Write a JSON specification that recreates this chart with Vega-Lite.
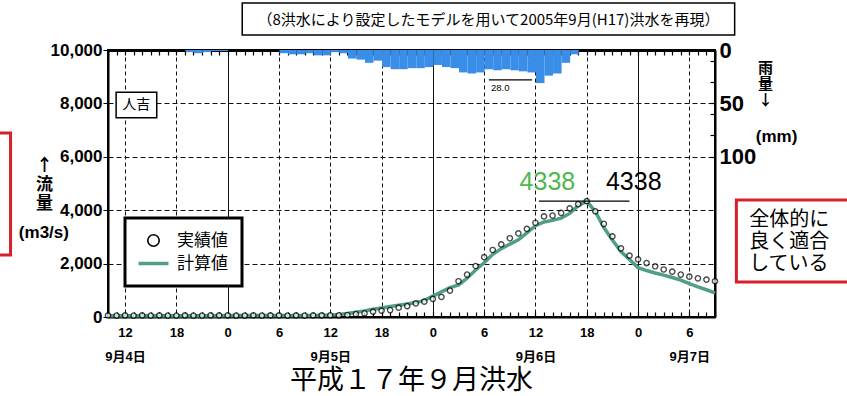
{
  "$schema": "https://vega.github.io/schema/vega-lite/v6.json",
  "width": 607,
  "height": 267,
  "autosize": "none",
  "padding": {"left": 108, "top": 50, "right": 132, "bottom": 79},
  "background": "white",
  "config": {
    "view": {"stroke": "black", "strokeWidth": 2},
    "font": "Liberation Sans",
    "axis": {"domainColor": "black", "tickColor": "black", "labelColor": "black", "titleColor": "black"}
  },
  "datasets": {
    "flow": [
      {"h": 10, "obs": 60, "calc": 50}, {"h": 11, "obs": 55, "calc": 50}, {"h": 12, "obs": 60, "calc": 50},
      {"h": 13, "obs": 55, "calc": 50}, {"h": 14, "obs": 60, "calc": 50}, {"h": 15, "obs": 55, "calc": 50},
      {"h": 16, "obs": 60, "calc": 50}, {"h": 17, "obs": 55, "calc": 50}, {"h": 18, "obs": 55, "calc": 50},
      {"h": 19, "obs": 60, "calc": 50}, {"h": 20, "obs": 55, "calc": 50}, {"h": 21, "obs": 55, "calc": 50},
      {"h": 22, "obs": 60, "calc": 50}, {"h": 23, "obs": 60, "calc": 50}, {"h": 24, "obs": 60, "calc": 55},
      {"h": 25, "obs": 55, "calc": 55}, {"h": 26, "obs": 55, "calc": 55}, {"h": 27, "obs": 60, "calc": 55},
      {"h": 28, "obs": 55, "calc": 55}, {"h": 29, "obs": 60, "calc": 55}, {"h": 30, "obs": 60, "calc": 55},
      {"h": 31, "obs": 55, "calc": 55}, {"h": 32, "obs": 60, "calc": 60}, {"h": 33, "obs": 55, "calc": 60},
      {"h": 34, "obs": 60, "calc": 60}, {"h": 35, "obs": 60, "calc": 65}, {"h": 36, "obs": 65, "calc": 70},
      {"h": 37, "obs": 65, "calc": 95}, {"h": 38, "obs": 75, "calc": 130}, {"h": 39, "obs": 110, "calc": 180},
      {"h": 40, "obs": 140, "calc": 230}, {"h": 41, "obs": 200, "calc": 290}, {"h": 42, "obs": 240, "calc": 340},
      {"h": 43, "obs": 260, "calc": 390}, {"h": 44, "obs": 350, "calc": 440}, {"h": 45, "obs": 410, "calc": 490},
      {"h": 46, "obs": 510, "calc": 540}, {"h": 47, "obs": 575, "calc": 620}, {"h": 48, "obs": 680, "calc": 780},
      {"h": 49, "obs": 750, "calc": 940}, {"h": 50, "obs": 990, "calc": 1100}, {"h": 51, "obs": 1340, "calc": 1200},
      {"h": 52, "obs": 1590, "calc": 1450}, {"h": 53, "obs": 1910, "calc": 1760}, {"h": 54, "obs": 2240, "calc": 2030},
      {"h": 55, "obs": 2510, "calc": 2350}, {"h": 56, "obs": 2720, "calc": 2560}, {"h": 57, "obs": 2950, "calc": 2730},
      {"h": 58, "obs": 3130, "calc": 2890}, {"h": 59, "obs": 3300, "calc": 3150}, {"h": 60, "obs": 3530, "calc": 3420},
      {"h": 61, "obs": 3770, "calc": 3560}, {"h": 62, "obs": 3800, "calc": 3620}, {"h": 63, "obs": 3900, "calc": 3700},
      {"h": 64, "obs": 4070, "calc": 3880}, {"h": 65, "obs": 4225, "calc": 4170}, {"h": 66, "obs": 4338, "calc": 4338},
      {"h": 67, "obs": 3960, "calc": 3950}, {"h": 68, "obs": 3490, "calc": 3350}, {"h": 69, "obs": 3020, "calc": 2880},
      {"h": 70, "obs": 2570, "calc": 2450}, {"h": 71, "obs": 2300, "calc": 2150}, {"h": 72, "obs": 2160, "calc": 1850},
      {"h": 73, "obs": 2020, "calc": 1740}, {"h": 74, "obs": 1900, "calc": 1650}, {"h": 75, "obs": 1780, "calc": 1570},
      {"h": 76, "obs": 1700, "calc": 1480}, {"h": 77, "obs": 1590, "calc": 1380}, {"h": 78, "obs": 1510, "calc": 1250},
      {"h": 79, "obs": 1450, "calc": 1130}, {"h": 80, "obs": 1400, "calc": 1020}, {"h": 81, "obs": 1340, "calc": 900}
    ],
    "rain": [
      {"h": 19, "mm": 2}, {"h": 20, "mm": 3}, {"h": 21, "mm": 2}, {"h": 22, "mm": 1}, {"h": 23, "mm": 1},
      {"h": 30, "mm": 3}, {"h": 31, "mm": 4}, {"h": 32, "mm": 4}, {"h": 33, "mm": 3}, {"h": 34, "mm": 5},
      {"h": 35, "mm": 5}, {"h": 36, "mm": 2}, {"h": 37, "mm": 3}, {"h": 38, "mm": 8}, {"h": 39, "mm": 9},
      {"h": 40, "mm": 12}, {"h": 41, "mm": 10}, {"h": 42, "mm": 16}, {"h": 43, "mm": 18}, {"h": 44, "mm": 18},
      {"h": 45, "mm": 17}, {"h": 46, "mm": 17}, {"h": 47, "mm": 16}, {"h": 48, "mm": 14}, {"h": 49, "mm": 16},
      {"h": 50, "mm": 17}, {"h": 51, "mm": 21}, {"h": 52, "mm": 22}, {"h": 53, "mm": 21}, {"h": 54, "mm": 18},
      {"h": 55, "mm": 19}, {"h": 56, "mm": 18}, {"h": 57, "mm": 19}, {"h": 58, "mm": 20}, {"h": 59, "mm": 21},
      {"h": 60, "mm": 31}, {"h": 61, "mm": 24}, {"h": 62, "mm": 22}, {"h": 63, "mm": 12}, {"h": 64, "mm": 4}
    ]
  },
  "layer": [
    {
      "data": {"name": "rain"},
      "mark": {"type": "bar", "color": "#3a8ee8", "binSpacing": 0},
      "encoding": {
        "x": {
          "field": "h", "type": "quantitative", "bin": {"step": 1, "extent": [10, 81]},
          "scale": {"domain": [10, 81], "nice": false, "zero": false},
          "axis": {
            "orient": "top", "title": null, "labels": false, "grid": false,
            "values": [10,11,12,13,14,15,16,17,18,19,20,21,22,23,24,25,26,27,28,29,30,31,32,33,34,35,36,37,38,39,40,41,42,43,44,45,46,47,48,49,50,51,52,53,54,55,56,57,58,59,60,61,62,63,64,65,66,67,68,69,70,71,72,73,74,75,76,77,78,79,80,81],
            "tickSize": -5, "tickWidth": 1.2, "domainWidth": 3
          }
        },
        "y": {
          "field": "mm", "type": "quantitative", "aggregate": "sum",
          "scale": {"domain": [0, 250], "reverse": true, "nice": false, "zero": true},
          "axis": {
            "orient": "right", "grid": false,
            "values": [0, 50, 100],
            "format": "d",
            "labelFont": "Liberation Sans", "labelFontWeight": "bold", "labelFontSize": 22,
            "labelPadding": 9, "labelOverlap": false, "labelFlush": false, "labelBound": false,
            "tickSize": -5, "tickWidth": 1.2, "domainWidth": 2,
            "title": ["雨", "量", "↓"], "titleAngle": 0, "titleX": 50, "titleY": 10,
            "titleAlign": "center", "titleBaseline": "top",
            "titleFont": "Noto Sans CJK JP", "titleFontSize": 15, "titleFontWeight": "bold", "titleLineHeight": 16
          }
        }
      }
    },
    {
      "data": {"values": [{"mm": 28.0, "label": "28.0"}]},
      "layer": [
        {
          "mark": {"type": "rule", "color": "black", "strokeWidth": 1.2},
          "encoding": {
            "x": {"datum": 54.55, "type": "quantitative", "scale": {"domain": [10, 81], "nice": false, "zero": false}, "axis": null},
            "x2": {"datum": 59.6},
            "y": {
              "field": "mm", "type": "quantitative",
              "scale": {"domain": [0, 250], "reverse": true, "nice": false, "zero": true},
              "axis": {
                "orient": "right", "grid": false, "domain": false, "labels": false, "title": null,
                "values": [10, 20, 30, 40, 60, 70, 80, 90],
                "tickSize": -5, "tickWidth": 1.2
              }
            }
          }
        },
        {
          "mark": {"type": "text", "align": "left", "baseline": "middle", "fontSize": 9.5, "color": "black"},
          "encoding": {
            "x": {"datum": 54.8, "type": "quantitative"},
            "y": {"datum": 36, "type": "quantitative"},
            "text": {"field": "label"}
          }
        }
      ]
    },
    {
      "layer": [
        {
          "data": {"values": [{"label": "（8洪水により設定したモデルを用いて2005年9月(H17)洪水を再現）"}]},
          "mark": {"type": "rect", "fill": "white", "stroke": "black", "strokeWidth": 1.5},
          "encoding": {
            "x": {"datum": 25.7, "type": "quantitative"}, "x2": {"datum": 83.3},
            "y": {"datum": 11760, "type": "quantitative"}, "y2": {"datum": 10560}
          }
        },
        {
          "data": {"values": [{"label": "（8洪水により設定したモデルを用いて2005年9月(H17)洪水を再現）"}]},
          "mark": {"type": "text", "font": "Noto Sans CJK JP", "fontSize": 15, "color": "black", "align": "center", "baseline": "middle"},
          "encoding": {
            "x": {"datum": 54.5, "type": "quantitative"},
            "y": {"datum": 11124, "type": "quantitative"},
            "text": {"field": "label"}
          }
        },
        {
          "data": {"name": "flow"},
          "mark": {"type": "line", "strokeWidth": 3.5},
          "encoding": {
            "x": {
              "field": "h", "type": "quantitative",
              "scale": {"domain": [10, 81], "nice": false, "zero": false},
              "axis": {
                "orient": "bottom", "title": null,
                "values": [10,11,12,13,14,15,16,17,18,19,20,21,22,23,24,25,26,27,28,29,30,31,32,33,34,35,36,37,38,39,40,41,42,43,44,45,46,47,48,49,50,51,52,53,54,55,56,57,58,59,60,61,62,63,64,65,66,67,68,69,70,71,72,73,74,75,76,77,78,79,80,81],
                "labelExpr": "datum.value % 6 != 0 ? '' : datum.value == 12 ? ['12', '9月4日'] : datum.value == 36 ? ['12', '9月5日'] : datum.value == 60 ? ['12', '9月6日'] : datum.value == 78 ? ['6', '9月7日'] : '' + (datum.value % 24)",
                "labelFont": "Liberation Sans, Noto Sans CJK JP", "labelFontWeight": "bold",
                "labelFontSize": {"condition": {"test": "datum.value % 6 == 0", "value": 13}, "value": 1},
                "labelLineHeight": 24, "labelPadding": 14, "labelOverlap": false, "labelFlush": false, "labelBound": false,
                "tickSize": -5, "tickWidth": 1.2, "domainWidth": 2,
                "grid": true, "gridColor": "#111111", "gridWidth": 1,
                "gridOpacity": {"condition": {"test": "datum.value % 6 == 0", "value": 1}, "value": 0},
                "gridDash": {"condition": {"test": "datum.value % 24 == 0", "value": []}, "value": [4, 3]}
              }
            },
            "y": {
              "field": "calc", "type": "quantitative",
              "scale": {"domain": [0, 10000], "nice": false},
              "axis": {
                "orient": "left",
                "values": [0, 1000, 2000, 3000, 4000, 5000, 6000, 7000, 8000, 9000, 10000],
                "labelExpr": "datum.value % 2000 == 0 ? format(datum.value, ',') : ''",
                "labelFont": "Liberation Sans", "labelFontWeight": "bold",
                "labelFontSize": {"condition": {"test": "datum.value % 2000 == 0", "value": 17}, "value": 1},
                "labelPadding": 1, "labelOverlap": false, "labelFlush": false, "labelBound": false,
                "tickSize": {"condition": {"test": "datum.value % 2000 == 0", "value": 5}, "value": -4},
                "domainWidth": 2,
                "grid": true, "gridColor": "#111111", "gridWidth": 1, "gridDash": [5, 3],
                "gridOpacity": {"condition": {"test": "datum.value % 2000 == 0 && datum.value > 0 && datum.value < 10000", "value": 1}, "value": 0},
                "title": ["↑", "流", "量"], "titleAngle": 0, "titleX": -64, "titleY": 107,
                "titleAlign": "center", "titleBaseline": "top",
                "titleFont": "Noto Sans CJK JP", "titleFontSize": 17, "titleFontWeight": "bold", "titleLineHeight": 19
              }
            },
            "color": {
              "datum": "計算値",
              "scale": {"domain": ["実績値", "計算値"], "range": ["black", "#4f9f80"]},
              "legend": {
                "orient": "none", "legendX": 17, "legendY": 168, "title": null,
                "padding": 14, "strokeColor": "black", "fillColor": "white",
                "labelFont": "Noto Sans CJK JP", "labelFontSize": 17, "labelColor": "black",
                "symbolSize": 130, "symbolOffset": 6, "labelOffset": 15, "rowPadding": 4,
                "encode": {
                  "legend": {"update": {"strokeWidth": {"value": 3}}},
                  "symbols": {"update": {
                    "shape": {"signal": "datum.value === '実績値' ? 'circle' : 'M-2.63,0L2.63,0'"},
                    "strokeWidth": {"signal": "datum.value === '実績値' ? 1.6 : 3.5"},
                    "fill": {"value": "transparent"}
                  }}
                }
              }
            }
          }
        },
        {
          "data": {"name": "flow"},
          "mark": {"type": "point", "shape": "circle", "filled": false, "fill": "white", "size": 28, "strokeWidth": 1.4},
          "encoding": {
            "x": {"field": "h", "type": "quantitative"},
            "y": {"field": "obs", "type": "quantitative"},
            "color": {"datum": "実績値"}
          }
        },
        {
          "data": {"name": "flow"},
          "transform": [{"aggregate": [{"op": "max", "field": "calc", "as": "peak"}]}],
          "mark": {"type": "rule", "color": "black", "strokeWidth": 1.2},
          "encoding": {
            "x": {"datum": 60.4, "type": "quantitative"}, "x2": {"datum": 71.0},
            "y": {"field": "peak", "type": "quantitative"}
          }
        },
        {
          "data": {"name": "flow"},
          "transform": [{"aggregate": [{"op": "max", "field": "calc", "as": "peak"}]}],
          "mark": {"type": "text", "fontSize": 25, "color": "#4db84d", "align": "center", "baseline": "middle"},
          "encoding": {
            "x": {"datum": 61.4, "type": "quantitative"},
            "y": {"datum": 5040, "type": "quantitative"},
            "text": {"field": "peak", "type": "quantitative", "format": "d"}
          }
        },
        {
          "data": {"name": "flow"},
          "transform": [{"aggregate": [{"op": "max", "field": "obs", "as": "peak"}]}],
          "mark": {"type": "text", "fontSize": 25, "color": "black", "align": "center", "baseline": "middle"},
          "encoding": {
            "x": {"datum": 71.5, "type": "quantitative"},
            "y": {"datum": 5040, "type": "quantitative"},
            "text": {"field": "peak", "type": "quantitative", "format": "d"}
          }
        },
        {
          "data": {"values": [{"label": "人吉"}]},
          "mark": {"type": "rect", "fill": "white", "stroke": "black", "strokeWidth": 1.5},
          "encoding": {
            "x": {"datum": 10.95, "type": "quantitative"}, "x2": {"datum": 15.7},
            "y": {"datum": 8420, "type": "quantitative"}, "y2": {"datum": 7460}
          }
        },
        {
          "data": {"values": [{"label": "人吉"}]},
          "mark": {"type": "text", "font": "Noto Sans CJK JP", "fontSize": 14, "color": "black", "align": "center", "baseline": "middle"},
          "encoding": {
            "x": {"datum": 13.3, "type": "quantitative"},
            "y": {"datum": 7940, "type": "quantitative"},
            "text": {"field": "label"}
          }
        },
        {
          "data": {"values": [{"label": "(m3/s)"}]},
          "mark": {"type": "text", "font": "Liberation Sans", "fontSize": 17, "fontWeight": "bold", "color": "black", "align": "center", "baseline": "middle"},
          "encoding": {
            "x": {"datum": 2.5, "type": "quantitative"},
            "y": {"datum": 3146, "type": "quantitative"},
            "text": {"field": "label"}
          }
        },
        {
          "data": {"values": [{"label": "(mm)"}]},
          "mark": {"type": "text", "font": "Liberation Sans", "fontSize": 17, "fontWeight": "bold", "color": "black", "align": "center", "baseline": "middle"},
          "encoding": {
            "x": {"datum": 88.2, "type": "quantitative"},
            "y": {"datum": 6742, "type": "quantitative"},
            "text": {"field": "label"}
          }
        },
        {
          "data": {"values": [{"note": "left"}]},
          "mark": {"type": "rect", "fill": null, "fillOpacity": 0, "stroke": "#d8202a", "strokeWidth": 3},
          "encoding": {
            "x": {"datum": -6.2, "type": "quantitative"}, "x2": {"datum": -1.4},
            "y": {"datum": 6891, "type": "quantitative"}, "y2": {"datum": 2322}
          }
        },
        {
          "data": {"values": [{"note": "right"}]},
          "mark": {"type": "rect", "fill": "white", "stroke": "#d8202a", "strokeWidth": 3},
          "encoding": {
            "x": {"datum": 83.5, "type": "quantitative"}, "x2": {"datum": 100},
            "y": {"datum": 4382, "type": "quantitative"}, "y2": {"datum": 1311}
          }
        },
        {
          "data": {"values": [{"label": ["全体的に", "良く適合", "している"]}]},
          "mark": {"type": "text", "font": "Noto Sans CJK JP", "fontSize": 20, "lineHeight": 22, "color": "black", "align": "left", "baseline": "middle"},
          "encoding": {
            "x": {"datum": 85.0, "type": "quantitative"},
            "y": {"datum": 3633, "type": "quantitative"},
            "text": {"field": "label"}
          }
        },
        {
          "data": {"values": [{"label": "平成１７年９月洪水"}]},
          "mark": {"type": "text", "font": "Noto Sans CJK JP", "fontSize": 27, "color": "black", "align": "center", "baseline": "middle"},
          "encoding": {
            "x": {"datum": 45.5, "type": "quantitative"},
            "y": {"datum": -2400, "type": "quantitative"},
            "text": {"field": "label"}
          }
        }
      ]
    }
  ],
  "resolve": {"scale": {"y": "independent"}, "axis": {"x": "independent", "y": "independent"}}
}
